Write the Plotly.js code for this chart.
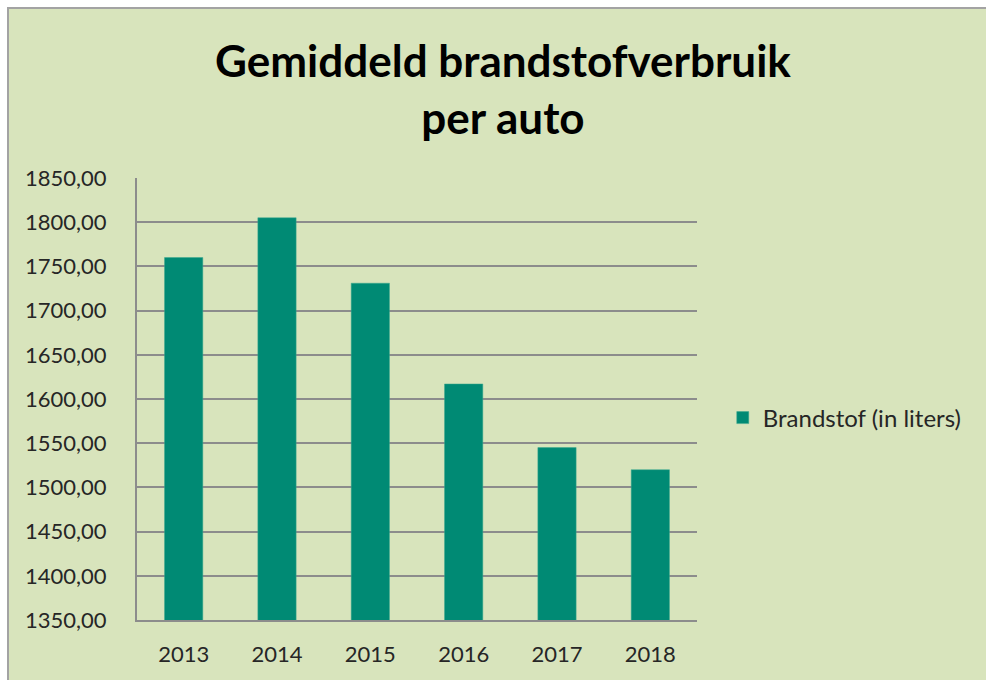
<!DOCTYPE html>
<html>
<head>
<meta charset="utf-8">
<script src="https://cdn.plot.ly/plotly-3.0.1.min.js"></script>
<style>
  html, body { margin: 0; padding: 0; background: #ffffff; }
  #wrap { position: absolute; left: 7px; top: 7px; width: 977px; height: 671px;
          border-left: 2px solid #a3a3a3; border-top: 2px solid #a3a3a3; overflow: hidden; }
  #chart { width: 977px; height: 671px; }
</style>
</head>
<body>
<div id="wrap"><div id="chart"></div></div>
<script>
const years = ['2013', '2014', '2015', '2016', '2017', '2018'];
const fuel = [1760, 1805, 1731, 1617, 1545, 1520];
const seriesName = 'Brandstof (in liters)';
const titleText = 'Gemiddeld brandstofverbruik<br>per auto';
const yTicks = [1350, 1400, 1450, 1500, 1550, 1600, 1650, 1700, 1750, 1800, 1850];

const FONT = 'Lato, "Open Sans", sans-serif';

const trace = {
  type: 'bar',
  x: years,
  y: fuel,
  name: seriesName,
  showlegend: true,
  marker: { color: '#008A74', line: { color: '#3aa88e', width: 0.5 } },
  hoverinfo: 'x+y'
};

const layout = {
  width: 977,
  height: 671,
  paper_bgcolor: '#D8E4BC',
  plot_bgcolor: '#D8E4BC',
  margin: { l: 128, r: 289, t: 169, b: 60 },
  bargap: 0.59,
  font: { family: FONT, color: '#262626' },
  title: {
    text: titleText,
    font: { family: FONT, size: 44, color: '#000000', weight: 'bold' },
    xref: 'container', yref: 'container',
    x: 0.5056, xanchor: 'center',
    y: 0.899, yanchor: 'middle'
  },
  xaxis: {
    type: 'category',
    showgrid: false,
    showline: true, linecolor: '#8c8c8c', linewidth: 2,
    ticks: '', ticklabelstandoff: 14,
    tickfont: { family: FONT, size: 22, color: '#262626' },
    fixedrange: true
  },
  yaxis: {
    range: [1350, 1850],
    tickvals: yTicks,
    tickformat: '.2f',
    showgrid: true, gridcolor: '#8c8c8c', gridwidth: 2,
    showline: true, linecolor: '#8c8c8c', linewidth: 2,
    zeroline: false,
    ticks: '', ticklabelstandoff: 24,
    tickfont: { family: FONT, size: 22, color: '#262626' },
    fixedrange: true
  },
  separators: ',.',
  showlegend: true,
  legend: {
    x: 1.046, xanchor: 'left',
    y: 0.457, yanchor: 'middle',
    bgcolor: 'rgba(0,0,0,0)',
    font: { family: FONT, size: 24, color: '#262626' }
  }
};

Plotly.newPlot('chart', [trace], layout, { displayModeBar: false, staticPlot: true });
</script>
</body>
</html>
